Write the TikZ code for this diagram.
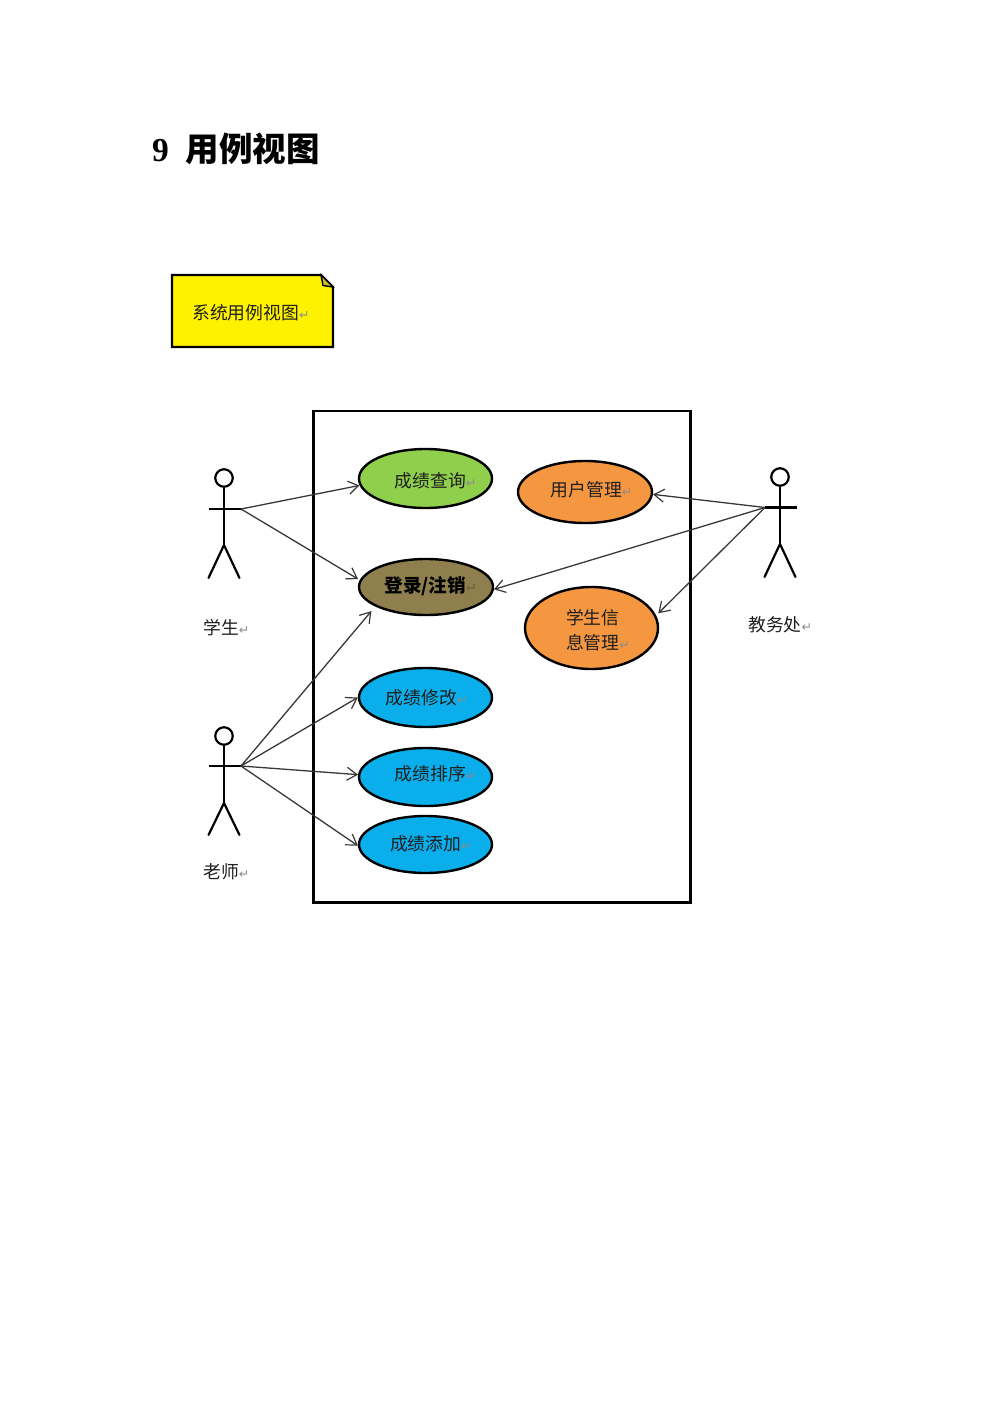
\documentclass[tikz,border=0pt]{standalone}
\usepackage{fontspec}
\usetikzlibrary{arrows.meta,shapes.geometric}
\setmainfont{Noto Sans CJK SC}
\newfontfamily\latinbold{Liberation Serif}
\newfontfamily\symfont{DejaVu Sans}
\definecolor{inkc}{HTML}{1E1E1E}
\definecolor{markc}{HTML}{8C8C8C}
\definecolor{greenc}{HTML}{8FCF4B}
\definecolor{orangec}{HTML}{F59740}
\definecolor{olivec}{HTML}{8F7F4F}
\definecolor{bluec}{HTML}{0AAEEB}
\definecolor{linkc}{HTML}{383838}
\newcommand{\retmark}[1][markc]{{\symfont\fontsize{12.5}{12.5}\selectfont\textcolor{#1}{↵}}}
\newcommand{\ulab}[3]{\makebox[0pt]{\hspace*{#1}\raisebox{\dimexpr#2-6.8pt\relax}[0pt][0pt]{#3}}}
\tikzset{
  usecase/.style={ellipse,draw=black,line width=2.4pt,inner sep=0pt,font=\fontsize{17.8}{20}\selectfont,text=inkc},
  plainlabel/.style={inner sep=0pt,anchor=west,font=\fontsize{17.8}{20}\selectfont,text=inkc},
  link/.style={draw=linkc,line width=1.3pt,-{Straight Barb[length=10pt,width=13pt,line width=1.2pt]}},
  stick/.style={draw=black,line width=2.2pt},
}
\newcommand{\actor}[6]{% name, x, headY, armY, hipY, footY
  \node[stick,circle,inner sep=0pt,minimum size=17.5pt] (#1head) at (#2,#3) {};
  \coordinate (#1hip) at (#2,#5);
  \coordinate (#1l) at (#2-15,#4);
  \coordinate (#1r) at (#2+17,#4);
  \coordinate (#1fl) at (#2-15.5,#6);
  \coordinate (#1fr) at (#2+15.5,#6);
  \draw[stick] (#1head.south) -- (#1hip);
  \draw[stick] (#1l) -- (#1r);
  \draw[stick,line cap=round] (#1fl) -- (#1hip) -- (#1fr);
}
\begin{document}
\begin{tikzpicture}[x=1pt,y=-1pt]
\useasboundingbox (0,0) rectangle (1000,1415);
\node[inner sep=0pt,anchor=west,font=\fontsize{33.5}{36}\selectfont\bfseries,text=black] (title) at (152,148.5) {{\latinbold 9}\hspace{17pt}用例视图};
% note
\draw[fill=yellow,draw=black,line width=2.2pt] (172,275) -- (321,275) -- (333,287) -- (333,347) -- (172,347) -- cycle;
\draw[fill=yellow!75!black,draw=black,line width=1.4pt] (321,275) -- (323,285.5) -- (333,287) -- cycle;
\node[plainlabel] (notetext) at (192,313) {系统用例视图\retmark};
% system boundary
\node[draw=black,line width=2.6pt,minimum width=377pt,minimum height=491.5pt,inner sep=0pt] (system) at (502,656.75) {};
% use cases
\node[usecase,fill=greenc,minimum width=133pt,minimum height=59pt] (query) at (425.5,478.5) {\ulab{20pt}{-2.5pt}{成绩查询\retmark}};
\node[usecase,fill=orangec,minimum width=134pt,minimum height=62pt] (users) at (585,492) {\ulab{13pt}{2.5pt}{用户管理\retmark}};
\node[usecase,fill=olivec,minimum width=134pt,minimum height=56pt,font=\fontsize{18.6}{20}\selectfont\bfseries,text=black] (login) at (426,587) {\ulab{9pt}{1pt}{登录/注销\retmark[olivec!80!black]}};
\node[usecase,fill=orangec,minimum width=133pt,minimum height=82pt] (info) at (591.5,628) {\ulab{13pt}{-2pt}{\begin{tabular}{@{}l@{}}学生信\\[4.5pt]息管理\retmark\end{tabular}}};
\node[usecase,fill=bluec,minimum width=133pt,minimum height=59pt] (edit) at (425.5,697.5) {\ulab{2pt}{-0.5pt}{成绩修改\retmark}};
\node[usecase,fill=bluec,minimum width=133pt,minimum height=58pt] (sort) at (425.5,777) {\ulab{20pt}{3pt}{成绩排序\retmark}};
\node[usecase,fill=bluec,minimum width=133pt,minimum height=57pt] (add) at (425.5,844.5) {\ulab{11pt}{0.5pt}{成绩添加\retmark}};
% actors
\actor{stu}{224}{478}{509}{545}{578}{}
\actor{tea}{224}{736}{766}{803}{835}{}
\actor{adm}{780}{477}{507.5}{544}{577}{}
\node[plainlabel] (stulabel) at (203,628) {学生\retmark};
\node[plainlabel] (tealabel) at (203,872) {老师\retmark};
\node[plainlabel] (admlabel) at (748,625) {教务处\retmark};
% connectors
\draw[link] (stur) -- (query.186);
\draw[link,shorten >=2pt] (stur) -- (login.174);
\draw[link,shorten >=6pt] (tear) -- (login.201.5);
\draw[link] (tear) -- (edit.180);
\draw[link] (tear) -- (sort.178);
\draw[link] (tear) -- (add.181);
\draw[link] (adml) -- (users.358);
\draw[link] (adml) -- (login.358);
\draw[link,shorten >=3pt] (adml) -- (info.11);
\end{tikzpicture}
\end{document}
